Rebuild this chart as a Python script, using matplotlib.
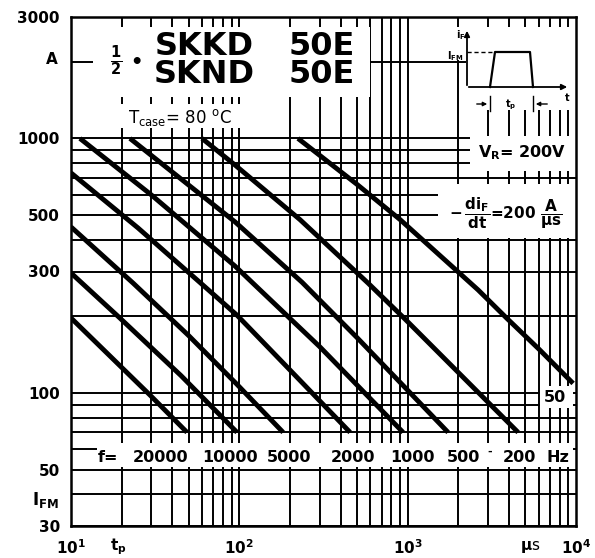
import matplotlib
matplotlib.use("Agg")
import matplotlib.pyplot as plt
from matplotlib.patches import Rectangle

plt.rcParams['font.family'] = ['DejaVu Sans']
plt.rcParams['mathtext.fontset'] = 'dejavusans'
plt.rcParams['mathtext.default'] = 'bf'

# peak forward current I_FM (A) vs pulse duration t_p (us), one curve per frequency
freq_labels = ["20000", "10000", "5000", "2000", "1000", "500", "200", "50"]
tp_20000 = [10, 29.5, 48.9]
ifm_20000 = [197, 98, 70]
tp_10000 = [10, 19.5, 45, 96.9]
ifm_10000 = [296, 197, 117, 70]
tp_5000 = [10, 23.4, 50, 96.9, 182]
ifm_5000 = [449, 270, 168, 108, 70]
tp_2000 = [10, 25, 60.9, 96.9, 200, 455]
ifm_2000 = [732, 445, 265, 202, 123, 70]
tp_1000 = [11.3, 30, 94.3, 124, 300, 939]
ifm_1000 = [1000, 600, 315, 265, 152, 70]
tp_500 = [22.4, 94.3, 236, 500, 965, 1738]
ifm_500 = [1000, 470, 272, 165, 105, 70]
tp_200 = [60, 94.3, 229, 582, 965, 4529]
ifm_200 = [1000, 786, 480, 270, 195, 70]
tp_50 = [223, 500, 901, 1993, 2620, 3895, 6000, 9612]
ifm_50 = [1000, 660, 480, 299, 254, 196, 149, 109]

curves = [(tp_20000, ifm_20000), (tp_10000, ifm_10000), (tp_5000, ifm_5000),
          (tp_2000, ifm_2000), (tp_1000, ifm_1000), (tp_500, ifm_500),
          (tp_200, ifm_200), (tp_50, ifm_50)]

y_ticks = [30, 50, 100, 300, 500, 1000, 3000]
x_ticks = [10, 100, 1000, 10000]
x_ticklabels = [r'$10^{1}$', r'$10^{2}$', r'$10^{3}$', r'$10^{4}$']

W, H = 595, 558
L, R, T, B = 71, 576, 17, 526

fig = plt.figure(figsize=(W / 100, H / 100), dpi=100)
ax = fig.add_axes([L / W, 1 - B / H, (R - L) / W, (B - T) / H])
ax.set_xscale('log')
ax.set_yscale('log')
ax.set_xlim(10, 1e4)
ax.set_ylim(30, 3000)


def axf(x, y):
    return ((x - L) / (R - L), (B - y) / (B - T))


# grid
xgrid = [m * 10 ** k for k in (1, 2, 3) for m in range(1, 10)]
ygrid = list(range(30, 100, 10)) + list(range(100, 1000, 100)) + [1000, 2000]
for v in xgrid:
    ax.axvline(v, color='k', lw=1.4, zorder=1)
for v in ygrid:
    ax.axhline(v, color='k', lw=1.4, zorder=1)

# white label areas that break the grid
boxes = [(93, 370, 27, 97), (110, 245, 104, 128), (440, 576, 27, 60),
         (466, 576, 60, 110), (470, 576, 136, 171), (438, 576, 184, 238),
         (540, 573, 386, 408), (97, 573, 443, 467)]
for x0, x1, y0, y1 in boxes:
    a, b = axf(x0, y1)
    c, d = axf(x1, y0)
    ax.add_patch(Rectangle((a, b), c - a, d - b, transform=ax.transAxes,
                           facecolor='white', edgecolor='none', zorder=2))

for tp, ifm in curves:
    ax.plot(tp, ifm, color='k', lw=3.5, solid_capstyle='butt',
            solid_joinstyle='round', zorder=3)

for s in ax.spines.values():
    s.set_linewidth(1.8)
    s.set_zorder(5)

ax.set_yticks(y_ticks, [str(v) for v in y_ticks])
ax.set_xticks(x_ticks, x_ticklabels)
ax.minorticks_off()
ax.tick_params(length=0, labelsize=11)
ax.tick_params(axis='y', pad=8)
ax.tick_params(axis='x', pad=9)
for lab in ax.get_yticklabels():
    lab.set_fontweight('bold')


def txt(x, y, s, **kw):
    kw.setdefault('ha', 'center')
    kw.setdefault('va', 'center')
    kw.setdefault('fontweight', 'bold')
    ax.text(*axf(x, y), s, transform=ax.transAxes, zorder=4, **kw)


# title block
txt(116, 61, r'$\frac{1}{2}$', fontsize=15)
txt(136, 63, '•', fontsize=14)
txt(204, 55, 'SKKD', fontsize=23, va='baseline')
txt(322, 55, '50E', fontsize=23, va='baseline')
txt(204, 83, 'SKND', fontsize=23, va='baseline')
txt(322, 83, '50E', fontsize=23, va='baseline')
txt(180, 117, r'$\mathrm{T_{case}}$= 80 $^{\mathrm{o}}$C', fontsize=12,
    fontweight='normal')

# conditions
txt(522, 153, r'$V_R$= 200V', fontsize=11.5)
txt(506, 213, r'$-\,\dfrac{di_F}{dt}$=200 $\dfrac{A}{\mu s}$', fontsize=11)
txt(555, 398, '50', fontsize=11.5)

# frequency row
row = [(108, 'f='), (161, '20000'), (230, '10000'), (289, '5000'),
       (353, '2000'), (412, '1000'), (464, '500'), (519, '200'), (558, 'Hz')]
for x, s in row:
    txt(x, 458, s, fontsize=11.5)
txt(490, 452, '-', fontsize=8)

# overlay for labels outside the axes and the pulse sketch
ov = fig.add_axes([0, 0, 1, 1], facecolor='none')
ov.set_xlim(0, W)
ov.set_ylim(H, 0)
ov.axis('off')

ov.text(52, 60, 'A', fontsize=11, fontweight='bold', ha='center', va='center')
ov.text(45, 500, r'$I_{FM}$', fontsize=12, ha='center', va='center')
ov.text(118, 547, r'$t_p$', fontsize=11, ha='center', va='center')
ov.text(530, 547, r'$\mu$s', fontsize=11, ha='center', va='center')

ap = dict(arrowstyle='-|>', lw=1.3, color='k', mutation_scale=8)
ov.annotate('', xy=(467, 28), xytext=(467, 88), arrowprops=ap)
ov.annotate('', xy=(570, 87), xytext=(466, 87), arrowprops=ap)
ov.plot([467, 494], [52, 52], 'k--', lw=1, dashes=(3, 2))
ov.plot([490, 495, 530, 533], [87, 52, 52, 87], 'k-', lw=1.6)
ov.text(465, 35, r'$i_F$', fontsize=7, ha='right', va='center')
ov.text(464, 56, r'$I_{FM}$', fontsize=7, ha='right', va='center')
ov.text(567, 98, 't', fontsize=7, fontweight='bold', ha='center', va='center')
ov.text(511, 105, r'$t_p$', fontsize=7, ha='center', va='center')
ov.plot([490, 490], [96, 111], 'k-', lw=1)
ov.plot([533, 533], [96, 111], 'k-', lw=1)
ap2 = dict(arrowstyle='-|>', lw=1, color='k', mutation_scale=6)
ov.annotate('', xy=(490, 104), xytext=(474, 104), arrowprops=ap2)
ov.annotate('', xy=(533, 104), xytext=(550, 104), arrowprops=ap2)

fig.savefig('out.png', dpi=100)
